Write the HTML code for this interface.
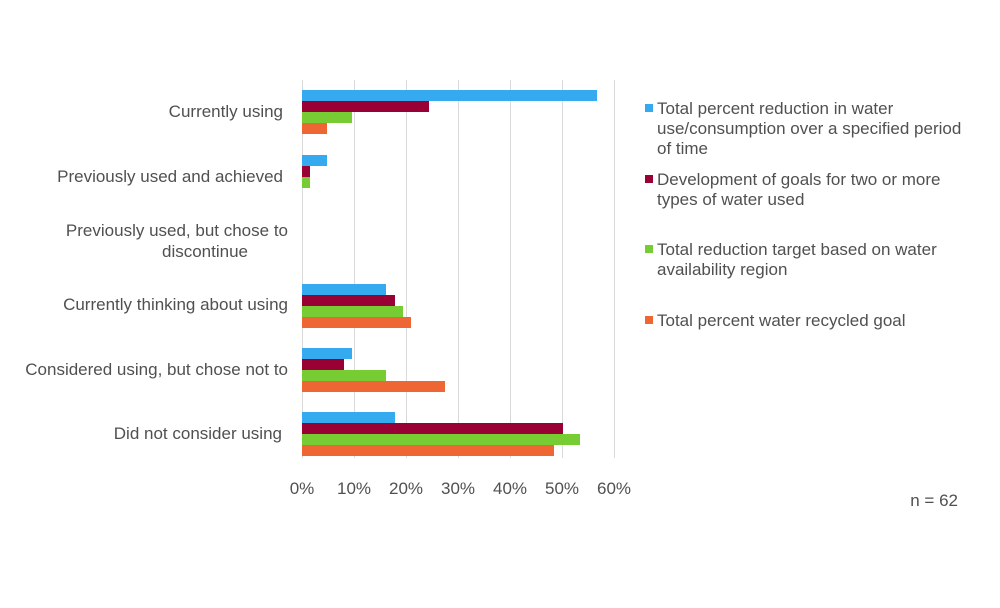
<!DOCTYPE html>
<html><head><style>body{margin:0;background:#fff}svg{display:block}text{font-family:"Liberation Sans",sans-serif;fill:#505050}</style></head><body>
<svg width="1000" height="608" xmlns="http://www.w3.org/2000/svg">
<g stroke="#d9d9d9" stroke-width="1">
<line x1="302.5" y1="80" x2="302.5" y2="458"/><line x1="354.5" y1="80" x2="354.5" y2="458"/><line x1="406.5" y1="80" x2="406.5" y2="458"/><line x1="458.5" y1="80" x2="458.5" y2="458"/><line x1="510.5" y1="80" x2="510.5" y2="458"/><line x1="562.5" y1="80" x2="562.5" y2="458"/><line x1="614.5" y1="80" x2="614.5" y2="458"/>
</g>
<g>
<rect x="302" y="90" width="295" height="11" fill="#35aaee"/>
<rect x="302" y="101" width="127" height="11" fill="#990033"/>
<rect x="302" y="112" width="50" height="11" fill="#77cc33"/>
<rect x="302" y="123" width="25" height="11" fill="#ee6633"/>

<rect x="302" y="155" width="25" height="11" fill="#35aaee"/>
<rect x="302" y="166" width="8" height="11" fill="#990033"/>
<rect x="302" y="177" width="8" height="11" fill="#77cc33"/>

<rect x="302" y="284" width="84" height="11" fill="#35aaee"/>
<rect x="302" y="295" width="93" height="11" fill="#990033"/>
<rect x="302" y="306" width="101" height="11" fill="#77cc33"/>
<rect x="302" y="317" width="109" height="11" fill="#ee6633"/>

<rect x="302" y="348" width="50" height="11" fill="#35aaee"/>
<rect x="302" y="359" width="42" height="11" fill="#990033"/>
<rect x="302" y="370" width="84" height="11" fill="#77cc33"/>
<rect x="302" y="381" width="143" height="11" fill="#ee6633"/>

<rect x="302" y="412" width="93" height="11" fill="#35aaee"/>
<rect x="302" y="423" width="261" height="11" fill="#990033"/>
<rect x="302" y="434" width="278" height="11" fill="#77cc33"/>
<rect x="302" y="445" width="252" height="11" fill="#ee6633"/>
</g>
<g font-size="17" text-anchor="end">
<text x="283" y="117">Currently using</text>
<text x="283" y="182">Previously used and achieved</text>
<text x="288" y="236">Previously used, but chose to</text>
<text x="248" y="257">discontinue</text>
<text x="288" y="310">Currently thinking about using</text>
<text x="288" y="375">Considered using, but chose not to</text>
<text x="282" y="439">Did not consider using</text>
</g>
<g font-size="17" text-anchor="middle">
<text x="302" y="494">0%</text><text x="354" y="494">10%</text><text x="406" y="494">20%</text><text x="458" y="494">30%</text><text x="510" y="494">40%</text><text x="562" y="494">50%</text><text x="614" y="494">60%</text>
</g>
<g font-size="17">
<rect x="645" y="104" width="8" height="8" fill="#35aaee"/>
<text x="657" y="114">Total percent reduction in water</text>
<text x="657" y="134">use/consumption over a specified period</text>
<text x="657" y="154">of time</text>
<rect x="645" y="175" width="8" height="8" fill="#990033"/>
<text x="657" y="185">Development of goals for two or more</text>
<text x="657" y="205">types of water used</text>
<rect x="645" y="245" width="8" height="8" fill="#77cc33"/>
<text x="657" y="255">Total reduction target based on water</text>
<text x="657" y="275">availability region</text>
<rect x="645" y="316" width="8" height="8" fill="#ee6633"/>
<text x="657" y="326">Total percent water recycled goal</text>
<text x="958" y="506" text-anchor="end">n = 62</text>
</g>
</svg>
</body></html>
